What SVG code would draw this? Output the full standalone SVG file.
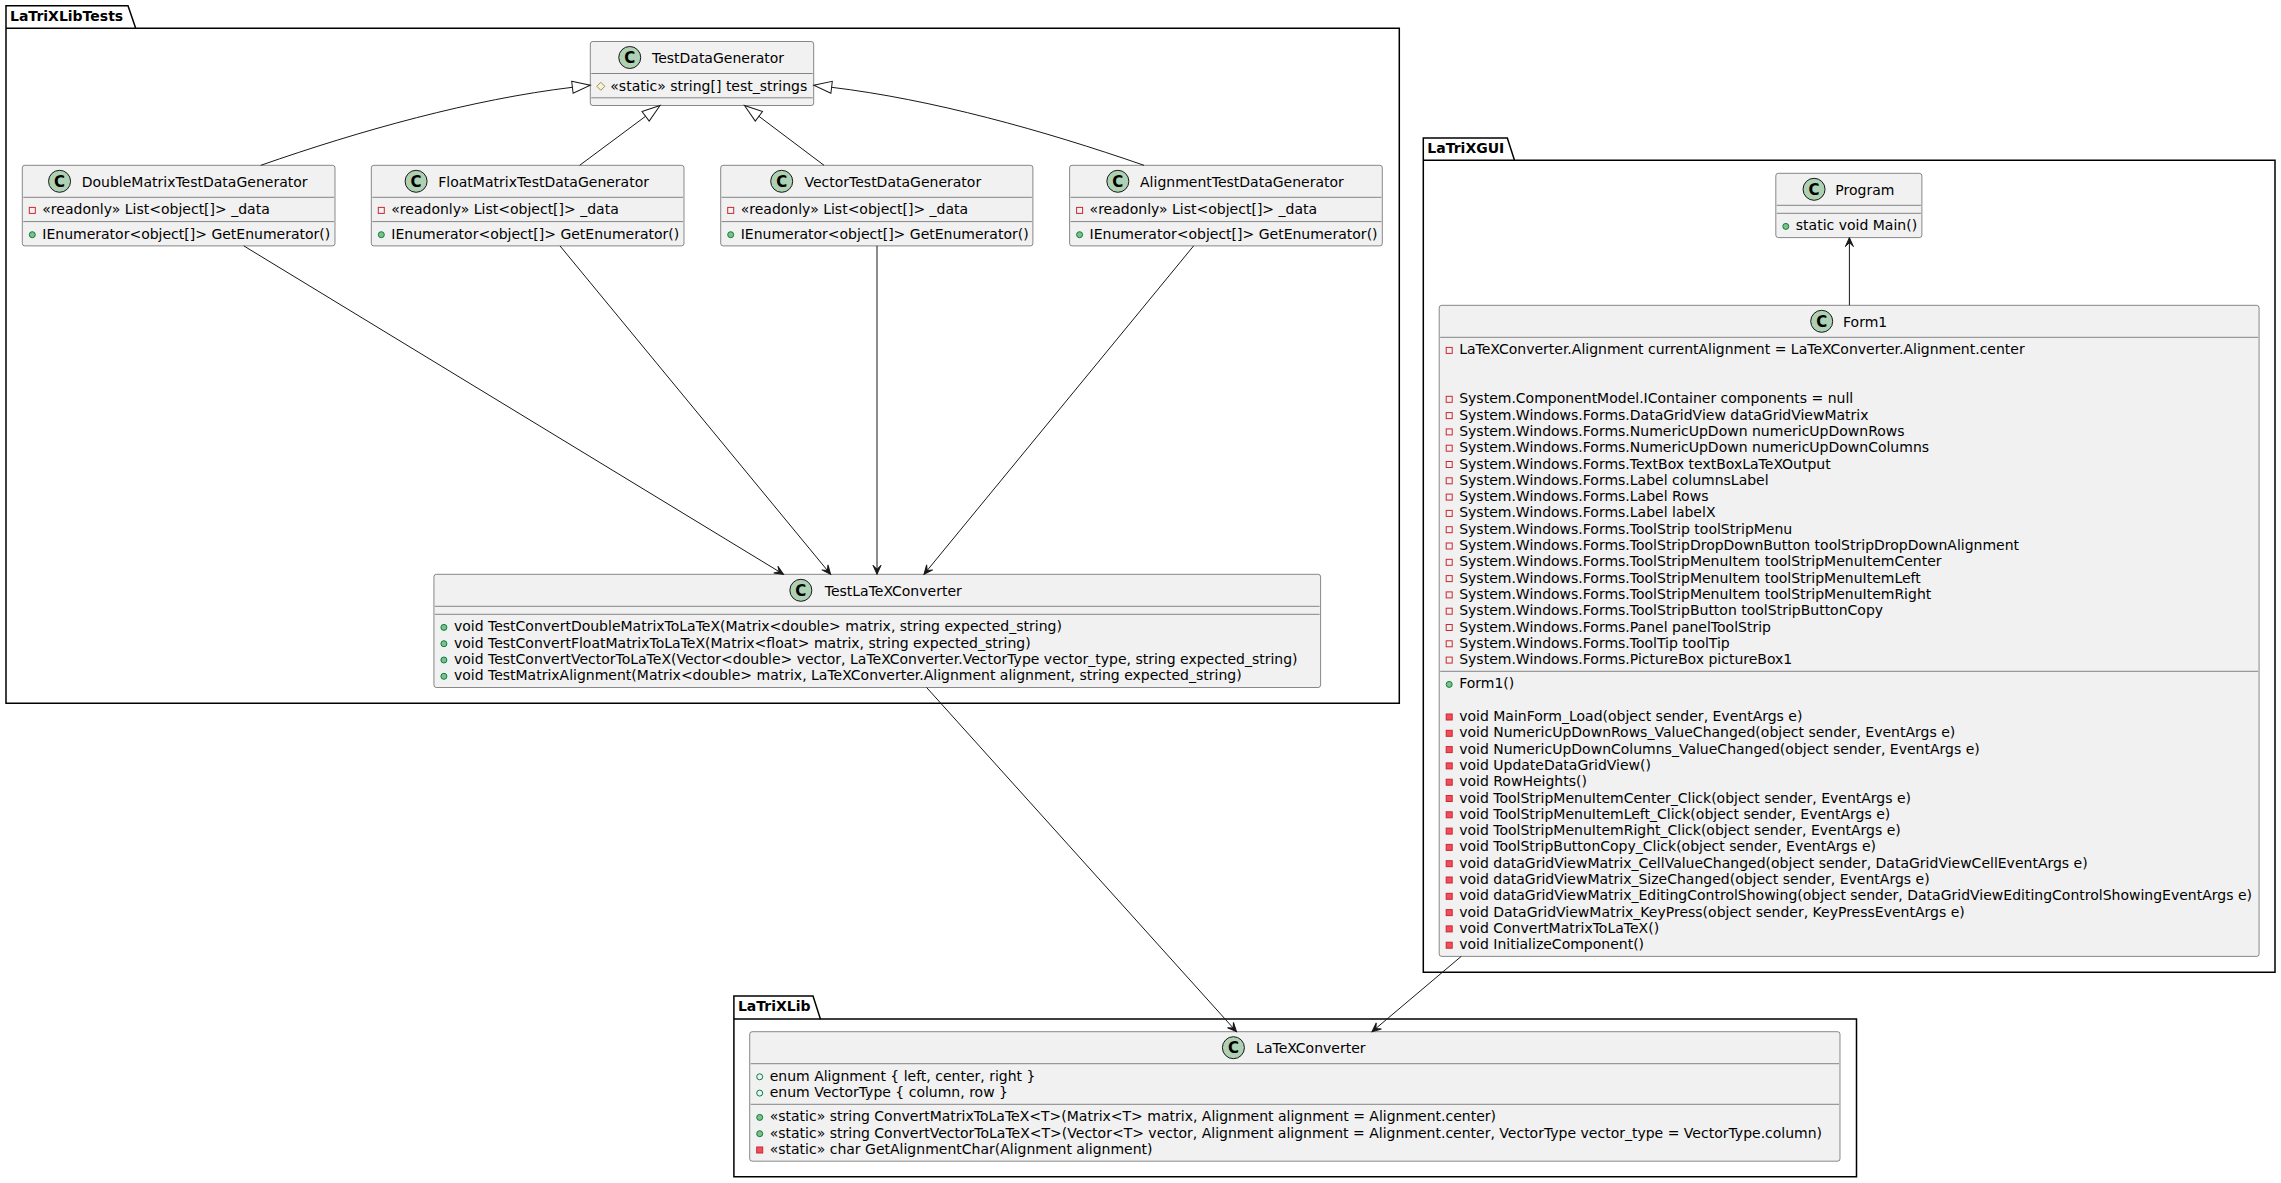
<svg xmlns="http://www.w3.org/2000/svg" xmlns:xlink="http://www.w3.org/1999/xlink" width="2281" height="1183" viewBox="0 0 2281 1183">
<style>
text{font-family:"DejaVu Sans","Liberation Sans",sans-serif;font-size:14px;fill:#000000}
.pkg{fill:none;stroke:#000000;stroke-width:1.5}
.pn{font-weight:bold}
.box{fill:#F1F1F1;stroke:#181818;stroke-width:0.5}
.sep{stroke:#181818;stroke-width:0.5}
.circ{fill:#ADD1B2;stroke:#181818;stroke-width:1}
.cg{font-weight:bold;font-size:15px;text-anchor:middle;fill:#000000}
.nm{text-anchor:middle}
.pf{fill:none;stroke:#C82930;stroke-width:1}
.pm{fill:#F24D5C;stroke:#C82930;stroke-width:1}
.um{fill:#84BE84;stroke:#038048;stroke-width:1}
.uf{fill:none;stroke:#038048;stroke-width:1}
.tf{fill:none;stroke:#B38D22;stroke-width:1}
.ln{fill:none;stroke:#181818;stroke-width:1}
.as{marker-end:url(#arr)}
.ex{marker-end:url(#ext)}
</style>
<defs>
<marker id="arr" markerUnits="userSpaceOnUse" markerWidth="12" markerHeight="12" refX="9" refY="5" orient="auto" overflow="visible">
<path d="M0,1 L9,5 L0,9 L4,5 Z" fill="#181818" stroke="#181818" stroke-width="1"/>
</marker>
<marker id="ext" markerUnits="userSpaceOnUse" markerWidth="20" markerHeight="14" refX="0" refY="6" orient="auto" overflow="visible">
<path d="M0,0 L18,6 L0,12 Z" fill="none" stroke="#181818" stroke-width="1"/>
</marker>
<rect id="ipf" x="0" y="0" width="6" height="6" class="pf"/>
<rect id="ipm" x="0" y="0" width="6" height="6" class="pm"/>
<circle id="ium" cx="3" cy="3" r="3" class="um"/>
<circle id="iuf" cx="3" cy="3" r="3" class="uf"/>
<polygon id="itf" points="4,0 8,4 4,8 0,4" class="tf"/>
</defs>
<rect x="0" y="0" width="2281" height="1183" fill="#FFFFFF"/>

<g id="pkg-LaTriXLibTests">
<polygon class="pkg" points="6,5.7 128,5.7 135.7,28.3 1399.3,28.3 1399.3,703.3 6,703.3"/>
<line class="pkg" x1="6" y1="28.3" x2="135.7" y2="28.3"/>
<text class="pn" x="10" y="20.7">LaTriXLibTests</text>
</g>
<g id="pkg-LaTriXGUI">
<polygon class="pkg" points="1423.3,138 1507.3,138 1514.5,160.3 2275,160.3 2275,972.3 1423.3,972.3"/>
<line class="pkg" x1="1423.3" y1="160.3" x2="1514.5" y2="160.3"/>
<text class="pn" x="1427.3" y="153">LaTriXGUI</text>
</g>
<g id="pkg-LaTriXLib">
<polygon class="pkg" points="733.9,996 813,996 820.4,1019 1856.5,1019 1856.5,1176.7 733.9,1176.7"/>
<line class="pkg" x1="733.9" y1="1019" x2="820.4" y2="1019"/>
<text class="pn" x="737.9" y="1011">LaTriXLib</text>
</g>

<g id="TestDataGenerator">
<rect class="box" x="590.3" y="41.5" width="223.4" height="64" rx="2.5"/>
<circle class="circ" cx="629.75" cy="57.5" r="11"/>
<text class="cg" x="629.75" y="62.8">C</text>
<text class="nm" x="718" y="62.9">TestDataGenerator</text>
<line class="sep" x1="591.3" y1="73.5" x2="812.7" y2="73.5"/>
<use xlink:href="#itf" x="596.8" y="82.3"/>
<text x="610.3" y="90.6">«static» string[] test_strings</text>
<line class="sep" x1="591.3" y1="97.8" x2="812.7" y2="97.8"/>
</g>

<g id="DoubleMatrixTestDataGenerator">
<rect class="box" x="22.3" y="165.3" width="312.7" height="80.6" rx="2.5"/>
<circle class="circ" cx="59.55" cy="181.3" r="11"/>
<text class="cg" x="59.55" y="186.6">C</text>
<text class="nm" x="194.65" y="186.7">DoubleMatrixTestDataGenerator</text>
<line class="sep" x1="23.3" y1="197.3" x2="334" y2="197.3"/>
<use xlink:href="#ipf" x="29.3" y="207.4"/>
<text x="42.3" y="214.4">«readonly» List&lt;object[]&gt; _data</text>
<line class="sep" x1="23.3" y1="221.6" x2="334" y2="221.6"/>
<use xlink:href="#ium" x="29.3" y="231.7"/>
<text x="42.3" y="238.7">IEnumerator&lt;object[]&gt; GetEnumerator()</text>
</g>

<g id="FloatMatrixTestDataGenerator">
<rect class="box" x="371.3" y="165.3" width="312.7" height="80.6" rx="2.5"/>
<circle class="circ" cx="416.1" cy="181.3" r="11"/>
<text class="cg" x="416.1" y="186.6">C</text>
<text class="nm" x="543.65" y="186.7">FloatMatrixTestDataGenerator</text>
<line class="sep" x1="372.3" y1="197.3" x2="683" y2="197.3"/>
<use xlink:href="#ipf" x="378.3" y="207.4"/>
<text x="391.3" y="214.4">«readonly» List&lt;object[]&gt; _data</text>
<line class="sep" x1="372.3" y1="221.6" x2="683" y2="221.6"/>
<use xlink:href="#ium" x="378.3" y="231.7"/>
<text x="391.3" y="238.7">IEnumerator&lt;object[]&gt; GetEnumerator()</text>
</g>

<g id="VectorTestDataGenerator">
<rect class="box" x="720.7" y="165.3" width="312.2" height="80.6" rx="2.5"/>
<circle class="circ" cx="781.7" cy="181.3" r="11"/>
<text class="cg" x="781.7" y="186.6">C</text>
<text class="nm" x="892.8" y="186.7">VectorTestDataGenerator</text>
<line class="sep" x1="721.7" y1="197.3" x2="1031.9" y2="197.3"/>
<use xlink:href="#ipf" x="727.7" y="207.4"/>
<text x="740.7" y="214.4">«readonly» List&lt;object[]&gt; _data</text>
<line class="sep" x1="721.7" y1="221.6" x2="1031.9" y2="221.6"/>
<use xlink:href="#ium" x="727.7" y="231.7"/>
<text x="740.7" y="238.7">IEnumerator&lt;object[]&gt; GetEnumerator()</text>
</g>

<g id="AlignmentTestDataGenerator">
<rect class="box" x="1069.6" y="165.3" width="312.7" height="80.6" rx="2.5"/>
<circle class="circ" cx="1117.85" cy="181.3" r="11"/>
<text class="cg" x="1117.85" y="186.6">C</text>
<text class="nm" x="1241.95" y="186.7">AlignmentTestDataGenerator</text>
<line class="sep" x1="1070.6" y1="197.3" x2="1381.3" y2="197.3"/>
<use xlink:href="#ipf" x="1076.6" y="207.4"/>
<text x="1089.6" y="214.4">«readonly» List&lt;object[]&gt; _data</text>
<line class="sep" x1="1070.6" y1="221.6" x2="1381.3" y2="221.6"/>
<use xlink:href="#ium" x="1076.6" y="231.7"/>
<text x="1089.6" y="238.7">IEnumerator&lt;object[]&gt; GetEnumerator()</text>
</g>

<g id="TestLaTeXConverter">
<rect class="box" x="433.9" y="574.3" width="886.7" height="113.2" rx="2.5"/>
<circle class="circ" cx="800.85" cy="590.3" r="11"/>
<text class="cg" x="800.85" y="595.6">C</text>
<text class="nm" x="893.25" y="595.7">TestLaTeXConverter</text>
<line class="sep" x1="434.9" y1="606.3" x2="1319.6" y2="606.3"/>
<line class="sep" x1="434.9" y1="614.3" x2="1319.6" y2="614.3"/>
<use xlink:href="#ium" x="440.9" y="624.4"/>
<text x="453.9" y="631.4">void TestConvertDoubleMatrixToLaTeX(Matrix&lt;double&gt; matrix, string expected_string)</text>
<use xlink:href="#ium" x="440.9" y="640.7"/>
<text x="453.9" y="647.7">void TestConvertFloatMatrixToLaTeX(Matrix&lt;float&gt; matrix, string expected_string)</text>
<use xlink:href="#ium" x="440.9" y="657"/>
<text x="453.9" y="664">void TestConvertVectorToLaTeX(Vector&lt;double&gt; vector, LaTeXConverter.VectorType vector_type, string expected_string)</text>
<use xlink:href="#ium" x="440.9" y="673.3"/>
<text x="453.9" y="680.3">void TestMatrixAlignment(Matrix&lt;double&gt; matrix, LaTeXConverter.Alignment alignment, string expected_string)</text>
</g>

<g id="Program">
<rect class="box" x="1775.8" y="173.3" width="146.1" height="64.3" rx="2.5"/>
<circle class="circ" cx="1814.05" cy="189.3" r="11"/>
<text class="cg" x="1814.05" y="194.6">C</text>
<text class="nm" x="1864.85" y="194.7">Program</text>
<line class="sep" x1="1776.8" y1="205.3" x2="1920.9" y2="205.3"/>
<line class="sep" x1="1776.8" y1="213.3" x2="1920.9" y2="213.3"/>
<use xlink:href="#ium" x="1782.8" y="223.4"/>
<text x="1795.8" y="230.4">static void Main()</text>
</g>

<g id="Form1">
<rect class="box" x="1439.2" y="305.3" width="819.9" height="651.1" rx="2.5"/>
<circle class="circ" cx="1821.7" cy="321.3" r="11"/>
<text class="cg" x="1821.7" y="326.6">C</text>
<text class="nm" x="1865.15" y="326.7">Form1</text>
<line class="sep" x1="1440.2" y1="337.3" x2="2258.1" y2="337.3"/>
<use xlink:href="#ipf" x="1446.2" y="347.4"/>
<text x="1459.2" y="354.4">LaTeXConverter.Alignment currentAlignment = LaTeXConverter.Alignment.center</text>
<use xlink:href="#ipf" x="1446.2" y="396.3"/>
<text x="1459.2" y="403.3">System.ComponentModel.IContainer components = null</text>
<use xlink:href="#ipf" x="1446.2" y="412.6"/>
<text x="1459.2" y="419.6">System.Windows.Forms.DataGridView dataGridViewMatrix</text>
<use xlink:href="#ipf" x="1446.2" y="428.9"/>
<text x="1459.2" y="435.9">System.Windows.Forms.NumericUpDown numericUpDownRows</text>
<use xlink:href="#ipf" x="1446.2" y="445.2"/>
<text x="1459.2" y="452.2">System.Windows.Forms.NumericUpDown numericUpDownColumns</text>
<use xlink:href="#ipf" x="1446.2" y="461.5"/>
<text x="1459.2" y="468.5">System.Windows.Forms.TextBox textBoxLaTeXOutput</text>
<use xlink:href="#ipf" x="1446.2" y="477.8"/>
<text x="1459.2" y="484.8">System.Windows.Forms.Label columnsLabel</text>
<use xlink:href="#ipf" x="1446.2" y="494.1"/>
<text x="1459.2" y="501.1">System.Windows.Forms.Label Rows</text>
<use xlink:href="#ipf" x="1446.2" y="510.4"/>
<text x="1459.2" y="517.4">System.Windows.Forms.Label labelX</text>
<use xlink:href="#ipf" x="1446.2" y="526.7"/>
<text x="1459.2" y="533.7">System.Windows.Forms.ToolStrip toolStripMenu</text>
<use xlink:href="#ipf" x="1446.2" y="543"/>
<text x="1459.2" y="550">System.Windows.Forms.ToolStripDropDownButton toolStripDropDownAlignment</text>
<use xlink:href="#ipf" x="1446.2" y="559.3"/>
<text x="1459.2" y="566.3">System.Windows.Forms.ToolStripMenuItem toolStripMenuItemCenter</text>
<use xlink:href="#ipf" x="1446.2" y="575.6"/>
<text x="1459.2" y="582.6">System.Windows.Forms.ToolStripMenuItem toolStripMenuItemLeft</text>
<use xlink:href="#ipf" x="1446.2" y="591.9"/>
<text x="1459.2" y="598.9">System.Windows.Forms.ToolStripMenuItem toolStripMenuItemRight</text>
<use xlink:href="#ipf" x="1446.2" y="608.2"/>
<text x="1459.2" y="615.2">System.Windows.Forms.ToolStripButton toolStripButtonCopy</text>
<use xlink:href="#ipf" x="1446.2" y="624.5"/>
<text x="1459.2" y="631.5">System.Windows.Forms.Panel panelToolStrip</text>
<use xlink:href="#ipf" x="1446.2" y="640.8"/>
<text x="1459.2" y="647.8">System.Windows.Forms.ToolTip toolTip</text>
<use xlink:href="#ipf" x="1446.2" y="657.1"/>
<text x="1459.2" y="664.1">System.Windows.Forms.PictureBox pictureBox1</text>
<line class="sep" x1="1440.2" y1="671.3" x2="2258.1" y2="671.3"/>
<use xlink:href="#ium" x="1446.2" y="681.4"/>
<text x="1459.2" y="688.4">Form1()</text>
<use xlink:href="#ipm" x="1446.2" y="714"/>
<text x="1459.2" y="721">void MainForm_Load(object sender, EventArgs e)</text>
<use xlink:href="#ipm" x="1446.2" y="730.3"/>
<text x="1459.2" y="737.3">void NumericUpDownRows_ValueChanged(object sender, EventArgs e)</text>
<use xlink:href="#ipm" x="1446.2" y="746.6"/>
<text x="1459.2" y="753.6">void NumericUpDownColumns_ValueChanged(object sender, EventArgs e)</text>
<use xlink:href="#ipm" x="1446.2" y="762.9"/>
<text x="1459.2" y="769.9">void UpdateDataGridView()</text>
<use xlink:href="#ipm" x="1446.2" y="779.2"/>
<text x="1459.2" y="786.2">void RowHeights()</text>
<use xlink:href="#ipm" x="1446.2" y="795.5"/>
<text x="1459.2" y="802.5">void ToolStripMenuItemCenter_Click(object sender, EventArgs e)</text>
<use xlink:href="#ipm" x="1446.2" y="811.8"/>
<text x="1459.2" y="818.8">void ToolStripMenuItemLeft_Click(object sender, EventArgs e)</text>
<use xlink:href="#ipm" x="1446.2" y="828.1"/>
<text x="1459.2" y="835.1">void ToolStripMenuItemRight_Click(object sender, EventArgs e)</text>
<use xlink:href="#ipm" x="1446.2" y="844.4"/>
<text x="1459.2" y="851.4">void ToolStripButtonCopy_Click(object sender, EventArgs e)</text>
<use xlink:href="#ipm" x="1446.2" y="860.7"/>
<text x="1459.2" y="867.7">void dataGridViewMatrix_CellValueChanged(object sender, DataGridViewCellEventArgs e)</text>
<use xlink:href="#ipm" x="1446.2" y="877"/>
<text x="1459.2" y="884">void dataGridViewMatrix_SizeChanged(object sender, EventArgs e)</text>
<use xlink:href="#ipm" x="1446.2" y="893.3"/>
<text x="1459.2" y="900.3">void dataGridViewMatrix_EditingControlShowing(object sender, DataGridViewEditingControlShowingEventArgs e)</text>
<use xlink:href="#ipm" x="1446.2" y="909.6"/>
<text x="1459.2" y="916.6">void DataGridViewMatrix_KeyPress(object sender, KeyPressEventArgs e)</text>
<use xlink:href="#ipm" x="1446.2" y="925.9"/>
<text x="1459.2" y="932.9">void ConvertMatrixToLaTeX()</text>
<use xlink:href="#ipm" x="1446.2" y="942.2"/>
<text x="1459.2" y="949.2">void InitializeComponent()</text>
</g>

<g id="LaTeXConverter">
<rect class="box" x="749.7" y="1031.7" width="1090.3" height="129.5" rx="2.5"/>
<circle class="circ" cx="1233.4" cy="1047.7" r="11"/>
<text class="cg" x="1233.4" y="1053">C</text>
<text class="nm" x="1310.85" y="1053.1">LaTeXConverter</text>
<line class="sep" x1="750.7" y1="1063.7" x2="1839" y2="1063.7"/>
<use xlink:href="#iuf" x="756.7" y="1073.8"/>
<text x="769.7" y="1080.8">enum Alignment { left, center, right }</text>
<use xlink:href="#iuf" x="756.7" y="1090.1"/>
<text x="769.7" y="1097.1">enum VectorType { column, row }</text>
<line class="sep" x1="750.7" y1="1104.3" x2="1839" y2="1104.3"/>
<use xlink:href="#ium" x="756.7" y="1114.4"/>
<text x="769.7" y="1121.4">«static» string ConvertMatrixToLaTeX&lt;T&gt;(Matrix&lt;T&gt; matrix, Alignment alignment = Alignment.center)</text>
<use xlink:href="#ium" x="756.7" y="1130.7"/>
<text x="769.7" y="1137.7">«static» string ConvertVectorToLaTeX&lt;T&gt;(Vector&lt;T&gt; vector, Alignment alignment = Alignment.center, VectorType vector_type = VectorType.column)</text>
<use xlink:href="#ipm" x="756.7" y="1147"/>
<text x="769.7" y="1154">«static» char GetAlignmentChar(Alignment alignment)</text>
</g>

<g id="connectors">
<path class="ln ex" d="M260.8,165.3 C360.8,130.3 472.4,99.3 572.4,87.3"/>
<path class="ln ex" d="M579.7,165.3 L645.6,116.25"/>
<path class="ln ex" d="M824,165.3 L758.9,116.3"/>
<path class="ln ex" d="M1144,165.3 C1043.2,130.3 931.6,99.3 831.6,87.3"/>
<path class="ln as" d="M243.8,245.9 L783.5,574.3"/>
<path class="ln as" d="M560,245.9 L830.6,574.3"/>
<path class="ln as" d="M877,245.9 L877,574.3"/>
<path class="ln as" d="M1193.6,245.9 L924,574.3"/>
<path class="ln as" d="M1849.4,305.3 L1849.4,237.6"/>
<path class="ln as" d="M926.6,687.5 L1236.5,1031.7"/>
<path class="ln as" d="M1461.2,956.4 L1372,1031.7"/>
</g>
</svg>
